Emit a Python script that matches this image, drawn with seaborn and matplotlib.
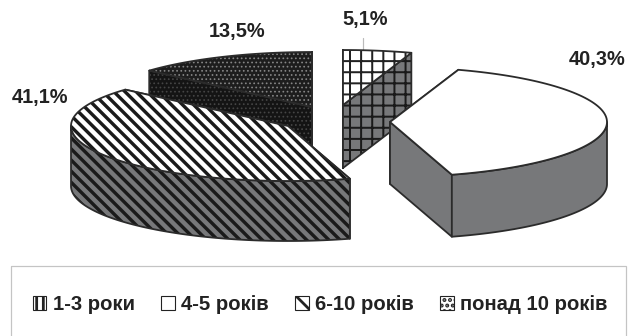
import numpy as np
import matplotlib
matplotlib.use("Agg")
import matplotlib.pyplot as plt
from matplotlib.patches import Polygon, Patch, Rectangle
import seaborn as sns

# Stazh groups and their shares, in percent
categories = ["1-3 роки", "4-5 років", "6-10 років", "понад 10 років"]
shares = [5.1, 40.3, 41.1, 13.5]

sns.set_theme(style="white")
plt.rcParams["font.family"] = ["Liberation Sans", "DejaVu Sans"]

DPI = 200
fig = plt.figure(figsize=(630 / DPI, 336 / DPI), dpi=DPI, facecolor="white")
ax = fig.add_axes([0, 0, 1, 1])
ax.set_xlim(0, 630)
ax.set_ylim(336, 0)
ax.axis("off")

RX, RY = 217, 55
INK = "#2b2b2b"
GREY = "#77787a"
PX = 72 / DPI  # one pixel in points
STRIPES = "\\" * 6

# Exploded slice geometry: centre of the top face and extrusion depth
centres = [(343, 105), (390, 122), (288, 126), (312, 107)]
depths = [63, 62, 60, 62]
# Face colour, hatch colour, hatch and hatch width for top and side faces
top_styles = [("white", "#222222", "+++", 2.0), ("white", "white", None, 0),
              ("white", "#1a1a1a", STRIPES, 3.4), ("#1d1d1d", "#858585", "........", 1)]
side_styles = [(GREY, "#1a1a1a", "+++", 2.0), (GREY, GREY, None, 0),
               (GREY, "#1a1a1a", STRIPES, 3.4), ("#141414", "#454545", "........", 1)]
draw_order = [3, 0, 1, 2]


def point(c, deg, dy=0):
    t = np.radians(deg)
    return c[0] + RX * np.sin(t), c[1] - RY * np.cos(t) + dy


def face(xy, style, z):
    fc, hc, hatch, hw = style
    p = Polygon(xy, closed=True, facecolor=fc, edgecolor=hc, hatch=hatch, lw=0, zorder=z)
    if hatch:
        p.set_hatch_linewidth(hw * PX)
    ax.add_patch(p)
    ax.add_patch(Polygon(xy, closed=True, fill=False, edgecolor=INK, lw=1.8 * PX,
                         joinstyle="round", zorder=z + 0.1))


edges = np.concatenate([[0], np.cumsum(shares)]) * 360 / 100
for i in draw_order:
    c, d = centres[i], depths[i]
    a0, a1 = edges[i], edges[i + 1]
    z = 2 + draw_order.index(i)
    arc = np.linspace(a0, a1, 90)
    for a, dz in ((a0, 0.0), (a1, 0.2)):
        ex, ey = point(c, a)
        face([c, (ex, ey), (ex, ey + d), (c[0], c[1] + d)], side_styles[i], z + dz)
    lo, hi = max(a0, 90), min(a1, 270)
    if lo < hi:
        vis = np.linspace(lo, hi, 90)
        upper = [point(c, a) for a in vis]
        lower = [point(c, a, d) for a in vis[::-1]]
        face(upper + lower, side_styles[i], z + 0.4)
    face([c] + [point(c, a) for a in arc], top_styles[i], z + 0.6)

# Value labels around the pie
label_pos = [(365, 20), (597, 60), (40, 97), (237, 31)]
for v, (x, y) in zip(shares, label_pos):
    ax.text(x, y, f"{v:.1f}%".replace(".", ","), ha="center", va="center",
            fontsize=7.2, fontweight="bold", color="#222222", zorder=10)
ax.plot([363, 363], [38, 50], color="#bbbbbb", lw=1.2 * PX, zorder=1)

# Legend area: open-bottomed grey frame with one row of entries
ax.add_patch(Rectangle((11, 266), 615, 90, fill=False, edgecolor="#c4c4c4",
                       lw=1.2 * PX, zorder=1))
legend_styles = [("white", "|||||"), ("white", None), ("white", "\\\\"), ("white", "......")]
handles = [Patch(facecolor=fc, edgecolor="#222222", hatch=h, lw=1.1 * PX, label=n)
           for (fc, h), n in zip(legend_styles, categories)]
leg = ax.legend(handles=handles, ncol=4, frameon=False, prop={"size": 7.3, "weight": "bold"},
                loc="center", bbox_to_anchor=(320 / 630, 1 - 305 / 336),
                handlelength=0.68, handleheight=0.68, handletextpad=0.3,
                columnspacing=1.3, borderpad=0, labelcolor="#222222")

sns.despine(ax=ax, left=True, bottom=True)
fig.savefig("out.png", dpi=DPI, facecolor="white")
